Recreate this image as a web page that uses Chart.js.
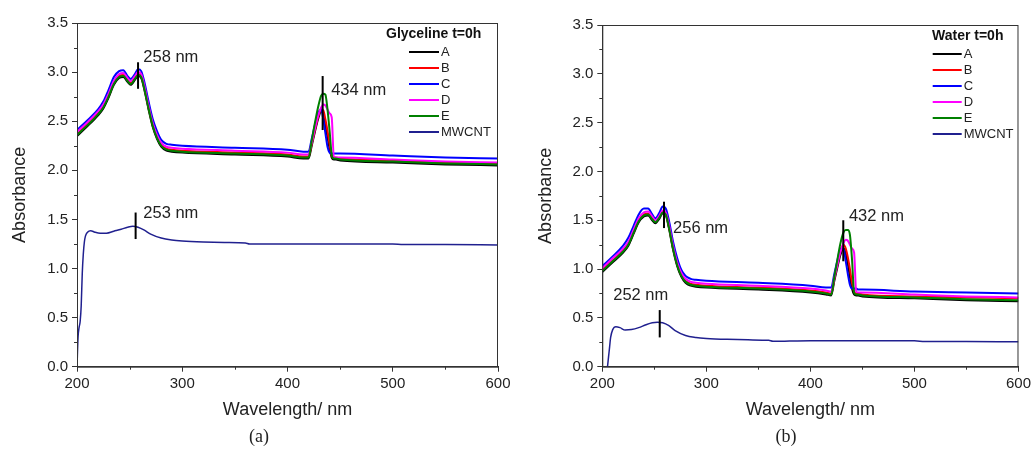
<!DOCTYPE html>
<html lang="en">
<head>
<meta charset="UTF-8" />
<title>UV-Vis absorbance, t=0h</title>
<script src="https://cdn.jsdelivr.net/npm/chart.js"></script>
<style>
  body { margin: 0; background: #fff; width: 1034px; height: 449px; position: relative; overflow: hidden; }
  .panel { position: absolute; top: 0; width: 517px; height: 449px; }
  .cap { position: absolute; top: 426px; width: 40px; text-align: center;
         font-family: "Liberation Serif", "DejaVu Serif", serif; font-size: 18px; color: #222; }
</style>
</head>
<body>
<div class="panel" style="left:0"><canvas id="chartA"></canvas></div>
<div class="panel" style="left:517px"><canvas id="chartB"></canvas></div>
<div class="cap" style="left:239px">(a)</div>
<div class="cap" style="left:766px">(b)</div>

<script>
// wavelength grids (nm)
const wavelengths = [200, 210, 220, 225, 230, 235, 240, 244, 248, 251, 255, 258, 261, 264, 268, 272, 276, 280, 285, 290,
  300, 350, 400, 415, 420, 423, 426, 429, 432, 434, 436, 438, 440, 442, 444, 446, 450, 500, 550, 600];
const mwWavelengths = [200, 201, 202, 203, 204, 205, 206, 207, 208, 210, 213, 217, 222, 228, 235, 242, 248, 253, 258, 264,
  270, 280, 290, 300, 320, 340, 360, 364, 380, 400, 450, 500, 510, 550, 600];

const seriesLabels = ["A", "B", "C", "D", "E", "MWCNT"];
const seriesColors = ["#000000", "#ff0000", "#0000ff", "#ff00ff", "#008000", "#20208f"];

// (a) Glyceline t=0h
const glyA = [2.35, 2.45, 2.56, 2.63, 2.74, 2.87, 2.94, 2.95, 2.90, 2.87, 2.92, 2.96, 2.94, 2.82, 2.62, 2.44, 2.32, 2.24, 2.20, 2.19,
  2.18, 2.16, 2.14, 2.12, 2.12, 2.25, 2.39, 2.52, 2.60, 2.57, 2.46, 2.34, 2.22, 2.13, 2.11, 2.11, 2.10, 2.08, 2.06, 2.05];
const glyB = [2.37, 2.47, 2.58, 2.65, 2.76, 2.89, 2.96, 2.97, 2.92, 2.89, 2.94, 2.98, 2.96, 2.84, 2.64, 2.46, 2.34, 2.26, 2.22, 2.21,
  2.20, 2.18, 2.16, 2.14, 2.14, 2.27, 2.41, 2.54, 2.62, 2.61, 2.52, 2.40, 2.27, 2.15, 2.13, 2.13, 2.12, 2.10, 2.08, 2.07];
const glyC = [2.41, 2.51, 2.62, 2.70, 2.82, 2.95, 3.01, 3.02, 2.96, 2.93, 2.98, 3.03, 3.01, 2.90, 2.70, 2.52, 2.40, 2.31, 2.27, 2.26,
  2.25, 2.23, 2.21, 2.19, 2.19, 2.32, 2.46, 2.58, 2.62, 2.52, 2.38, 2.24, 2.18, 2.17, 2.17, 2.17, 2.17, 2.15, 2.13, 2.12];
const glyD = [2.39, 2.49, 2.60, 2.67, 2.78, 2.91, 2.98, 2.99, 2.94, 2.91, 2.96, 3.00, 2.98, 2.86, 2.66, 2.48, 2.36, 2.28, 2.24, 2.23,
  2.22, 2.20, 2.18, 2.16, 2.16, 2.28, 2.42, 2.55, 2.64, 2.67, 2.66, 2.62, 2.58, 2.54, 2.14, 2.13, 2.13, 2.11, 2.09, 2.08];
const glyE = [2.36, 2.46, 2.57, 2.64, 2.75, 2.88, 2.95, 2.96, 2.91, 2.88, 2.93, 2.97, 2.95, 2.83, 2.63, 2.45, 2.33, 2.25, 2.21, 2.20,
  2.19, 2.17, 2.15, 2.13, 2.13, 2.30, 2.48, 2.64, 2.76, 2.78, 2.77, 2.62, 2.40, 2.16, 2.12, 2.12, 2.11, 2.09, 2.07, 2.06];
const glyMW = [0.00, 0.30, 0.40, 0.46, 0.62, 0.95, 1.15, 1.27, 1.33, 1.37, 1.385, 1.37, 1.36, 1.36, 1.38, 1.40, 1.42, 1.43, 1.42, 1.39,
  1.35, 1.31, 1.29, 1.28, 1.27, 1.265, 1.26, 1.25, 1.25, 1.25, 1.25, 1.25, 1.245, 1.245, 1.24];

// (b) Water t=0h
const watA = [0.97, 1.07, 1.17, 1.24, 1.36, 1.48, 1.54, 1.55, 1.50, 1.47, 1.52, 1.57, 1.55, 1.42, 1.20, 1.03, 0.92, 0.86, 0.83, 0.82,
  0.81, 0.79, 0.76, 0.74, 0.73, 0.88, 1.02, 1.15, 1.21, 1.16, 1.05, 0.92, 0.80, 0.74, 0.73, 0.73, 0.72, 0.70, 0.68, 0.67];
const watB = [0.99, 1.09, 1.19, 1.26, 1.38, 1.50, 1.56, 1.57, 1.52, 1.49, 1.54, 1.59, 1.57, 1.44, 1.22, 1.05, 0.94, 0.88, 0.85, 0.84,
  0.83, 0.81, 0.78, 0.76, 0.75, 0.90, 1.05, 1.19, 1.25, 1.21, 1.12, 1.00, 0.86, 0.77, 0.75, 0.75, 0.74, 0.72, 0.71, 0.70];
const watC = [1.03, 1.13, 1.24, 1.32, 1.44, 1.56, 1.62, 1.62, 1.56, 1.52, 1.58, 1.64, 1.62, 1.50, 1.28, 1.11, 0.99, 0.93, 0.90, 0.89,
  0.88, 0.86, 0.83, 0.81, 0.81, 0.95, 1.09, 1.21, 1.20, 1.08, 0.95, 0.84, 0.80, 0.80, 0.80, 0.79, 0.79, 0.77, 0.76, 0.75];
const watD = [1.01, 1.11, 1.21, 1.28, 1.40, 1.52, 1.58, 1.59, 1.54, 1.50, 1.55, 1.60, 1.58, 1.46, 1.24, 1.07, 0.96, 0.90, 0.87, 0.86,
  0.85, 0.83, 0.80, 0.78, 0.77, 0.91, 1.05, 1.18, 1.27, 1.30, 1.29, 1.25, 1.21, 1.17, 0.77, 0.76, 0.76, 0.74, 0.72, 0.71];
const watE = [0.98, 1.08, 1.18, 1.25, 1.37, 1.49, 1.55, 1.56, 1.51, 1.48, 1.53, 1.58, 1.56, 1.43, 1.21, 1.04, 0.93, 0.87, 0.84, 0.83,
  0.82, 0.80, 0.77, 0.75, 0.74, 0.92, 1.10, 1.27, 1.38, 1.40, 1.40, 1.35, 1.10, 0.76, 0.74, 0.74, 0.73, 0.71, 0.69, 0.68];
const watMW = [null, null, null, null, null, 0.00, 0.10, 0.20, 0.30, 0.38, 0.41, 0.40, 0.375, 0.38, 0.40, 0.43, 0.45, 0.455, 0.45, 0.42,
  0.37, 0.32, 0.30, 0.29, 0.28, 0.275, 0.27, 0.26, 0.262, 0.265, 0.265, 0.265, 0.258, 0.257, 0.256];

// peak markers: wavelength of the bar, bar from/to absorbance, label and where it sits
const glyPeaks = [
  { at: 258, from: 2.83, to: 3.10, text: "258 nm", tx: 263, ty: 3.15 },
  { at: 433.4, from: 2.41, to: 2.96, text: "434 nm", tx: 441.5, ty: 2.81 },
  { at: 255.7, from: 1.30, to: 1.57, text: "253 nm", tx: 263, ty: 1.56 },
];
const watPeaks = [
  { at: 259.3, from: 1.42, to: 1.69, text: "256 nm", tx: 268, ty: 1.42 },
  { at: 431.6, from: 1.08, to: 1.50, text: "432 nm", tx: 437, ty: 1.54 },
  { at: 255.2, from: 0.30, to: 0.58, text: "252 nm", tx: 210.5, ty: 0.73 },
];

const FONT = '"Liberation Sans", Arial, sans-serif';
const INK = "#222";

function pts(xs, ys) {
  return xs.map((x, i) => ({ x: x, y: ys[i] }));
}

function isMajor(v, step) {
  return Math.abs(v / step - Math.round(v / step)) < 1e-6;
}

// frame, minor ticks, peak markers and in-plot legend
const extras = {
  id: "extras",
  afterDatasetsDraw(chart, args, opts) {
    const c = chart.ctx;
    const a = chart.chartArea;
    const xs = chart.scales.x, ys = chart.scales.y;
    c.save();
    c.strokeStyle = "#333";
    c.lineWidth = 1;
    c.strokeRect(a.left + 0.5, a.top + 0.5, a.right - a.left - 1, a.bottom - a.top);

    // minor ticks, shorter than the major ones
    c.beginPath();
    xs.ticks.forEach((t) => {
      if (!isMajor(t.value, 100)) {
        const px = Math.round(xs.getPixelForValue(t.value)) + 0.5;
        c.moveTo(px, a.bottom);
        c.lineTo(px, a.bottom + 3);
      }
    });
    ys.ticks.forEach((t) => {
      if (!isMajor(t.value, 0.5)) {
        const py = Math.round(ys.getPixelForValue(t.value)) + 0.5;
        c.moveTo(a.left, py);
        c.lineTo(a.left - 3, py);
      }
    });
    c.stroke();

    // peak bars and labels
    c.strokeStyle = "#000";
    c.lineWidth = 2;
    c.fillStyle = INK;
    c.font = "16.5px " + FONT;
    c.textBaseline = "middle";
    c.textAlign = "left";
    opts.peaks.forEach((p) => {
      const px = xs.getPixelForValue(p.at);
      c.beginPath();
      c.moveTo(px, ys.getPixelForValue(p.from));
      c.lineTo(px, ys.getPixelForValue(p.to));
      c.stroke();
      c.fillText(p.text, xs.getPixelForValue(p.tx), ys.getPixelForValue(p.ty));
    });

    // legend
    const lg = opts.legend;
    c.font = "bold 14px " + FONT;
    c.fillStyle = "#111";
    c.fillText(lg.title, lg.titleX, lg.titleY);
    c.font = "13px " + FONT;
    c.fillStyle = INK;
    chart.data.datasets.forEach((ds, i) => {
      const y = lg.rowY + i * lg.dy;
      c.strokeStyle = ds.borderColor;
      c.lineWidth = 2;
      c.beginPath();
      c.moveTo(lg.x0, y);
      c.lineTo(lg.x1, y);
      c.stroke();
      c.fillText(ds.label, lg.x1 + 2, y + 0.5);
    });
    c.restore();
  },
};

function makeChart(id, series, mw, peaks, legend, pad, yWidth, yTitlePad) {
  const datasets = series.map((vals, i) => ({
    label: seriesLabels[i],
    data: pts(wavelengths, vals),
    borderColor: seriesColors[i],
    borderWidth: 2,
    order: 5 - i,
  }));
  datasets.push({
    label: seriesLabels[5],
    data: pts(mwWavelengths, mw),
    borderColor: seriesColors[5],
    borderWidth: 1.5,
    order: 0,
  });

  return new Chart(document.getElementById(id), {
    type: "line",
    data: { datasets: datasets },
    options: {
      responsive: true,
      maintainAspectRatio: false,
      animation: false,
      events: [],
      layout: { padding: pad },
      elements: {
        point: { radius: 0 },
        line: { cubicInterpolationMode: "monotone", fill: false },
      },
      spanGaps: false,
      plugins: {
        legend: { display: false },
        tooltip: { enabled: false },
        extras: { peaks: peaks, legend: legend },
      },
      scales: {
        x: {
          type: "linear",
          min: 200,
          max: 600,
          afterFit: (s) => { s.height = 58.3; },
          border: { color: "#333", width: 1 },
          grid: {
            drawOnChartArea: false,
            tickLength: 5,
            tickColor: (ctx) => (isMajor(ctx.tick.value, 100) ? "#333" : "rgba(0,0,0,0)"),
          },
          ticks: {
            stepSize: 50,
            padding: 3,
            maxRotation: 0,
            autoSkip: false,
            color: INK,
            font: { family: FONT, size: 15 },
            callback: (v) => (isMajor(v, 100) ? String(v) : ""),
          },
          title: {
            display: true,
            text: "Wavelength/ nm",
            color: INK,
            font: { family: FONT, size: 18 },
            padding: { top: 0, bottom: 4 },
          },
        },
        y: {
          min: 0,
          max: 3.5,
          afterFit: (s) => { s.width = yWidth; },
          border: { color: "#333", width: 1 },
          grid: {
            drawOnChartArea: false,
            tickLength: 5,
            tickColor: (ctx) => (isMajor(ctx.tick.value, 0.5) ? "#333" : "rgba(0,0,0,0)"),
          },
          ticks: {
            stepSize: 0.25,
            padding: 4,
            autoSkip: false,
            color: INK,
            font: { family: FONT, size: 15 },
            callback: (v) => (isMajor(v, 0.5) ? v.toFixed(1) : ""),
          },
          title: {
            display: true,
            text: "Absorbance",
            color: INK,
            font: { family: FONT, size: 18 },
            padding: { top: yTitlePad, bottom: 0 },
          },
        },
      },
    },
    plugins: [extras],
  });
}

makeChart("chartA", [glyA, glyB, glyC, glyD, glyE], glyMW, glyPeaks,
  { title: "Glyceline t=0h", titleX: 386, titleY: 34.5, x0: 409, x1: 439, rowY: 52, dy: 16 },
  { top: 23, right: 19, bottom: 24, left: 0 }, 77, 9);

makeChart("chartB", [watA, watB, watC, watD, watE], watMW, watPeaks,
  { title: "Water t=0h", titleX: 415, titleY: 36, x0: 415.7, x1: 444.7, rowY: 54, dy: 16 },
  { top: 25, right: 14, bottom: 24, left: 0 }, 85.3, 18);
</script>
</body>
</html>
